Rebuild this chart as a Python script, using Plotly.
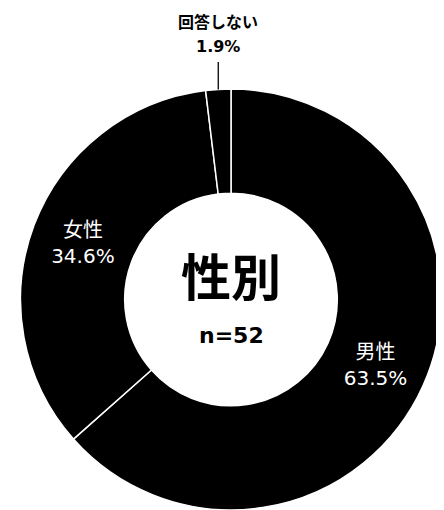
import math
import plotly.graph_objects as go

labels = ["男性", "女性", "回答しない"]
counts = [33, 18, 1]
center_title = "性別"
n_label = "n=52"

# the page body has an 8px margin, so the figure is drawn at an 8px offset
OFF = 8
W, H = 444 - OFF, 510 - OFF
cx, cy, R = 231 - OFF, 300 - OFF, 211  # pie center (px in figure) and radius

total = sum(counts)

fig = go.Figure()
fig.add_trace(go.Pie(
    labels=labels,
    values=counts,
    sort=False,
    direction="clockwise",
    rotation=0,
    hole=0.505,
    marker=dict(colors=["#000000"] * 3, line=dict(color="#ffffff", width=1.5)),
    texttemplate="%{label}<br>%{percent:.1%}",
    textposition=["inside", "inside", "none"],
    insidetextorientation="horizontal",
    insidetextfont=dict(color="#ffffff", size=20, family="DejaVu Sans, Noto Sans CJK JP"),
    domain=dict(x=[max(0, (cx - R) / W), min(1, (cx + R) / W)],
                y=[max(0, (H - cy - R) / H), min(1, (H - cy + R) / H)]),
    showlegend=False,
    hoverinfo="label+percent",
))

# outside label for the small slice
cum = sum(counts[:2])
mid = (cum + counts[2] / 2) / total
theta = 2 * math.pi * mid
tx = cx + R * math.sin(theta)
ty = cy - R * math.cos(theta)
pct = counts[2] / total * 100
fig.add_annotation(
    x=tx / W, y=1 - ty / H, xref="paper", yref="paper",
    text=f"<b>{pct:.1f}%</b>",
    showarrow=True, arrowhead=0, arrowwidth=1.3, arrowcolor="#000000",
    ax=0, ay=(46 - OFF) - ty, standoff=0, startstandoff=5,
    xanchor="center", yanchor="middle",
    font=dict(size=16, color="#000000", family="DejaVu Sans"),
)
fig.add_annotation(
    x=tx / W, y=1 - (21 - OFF) / H, xref="paper", yref="paper",
    text=f"<b>{labels[2]}</b>", showarrow=False,
    xanchor="center", yanchor="middle",
    font=dict(size=16, color="#000000", family="Noto Sans CJK JP"),
)

fig.add_annotation(
    x=cx / W, y=1 - (274 - OFF) / H, xref="paper", yref="paper",
    text=f"<b>{center_title}</b>", showarrow=False,
    xanchor="center", yanchor="middle",
    font=dict(size=50, color="#000000", family="Noto Sans CJK JP"),
)
fig.add_annotation(
    x=cx / W, y=1 - (335 - OFF) / H, xref="paper", yref="paper",
    text=f"<b>{n_label}</b>", showarrow=False,
    xanchor="center", yanchor="middle",
    font=dict(size=22, color="#000000", family="DejaVu Sans"),
)

fig.update_layout(
    width=W, height=H,
    margin=dict(l=0, r=0, t=0, b=0),
    paper_bgcolor="#ffffff", plot_bgcolor="#ffffff",
)
fig.write_html("out.html")
